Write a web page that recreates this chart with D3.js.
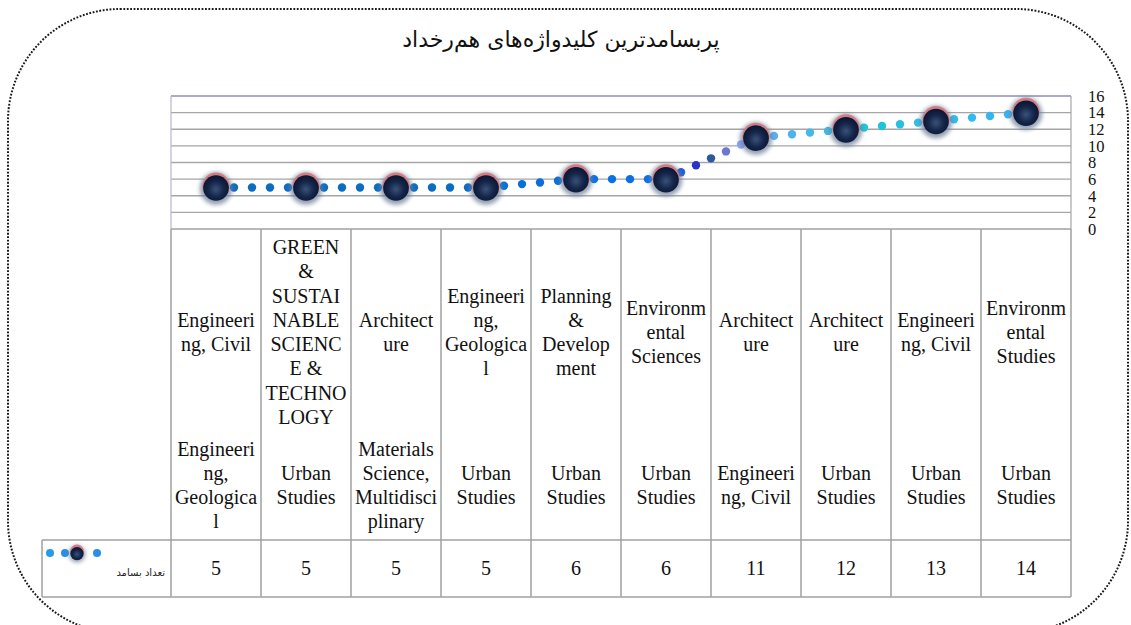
<!DOCTYPE html>
<html><head><meta charset="utf-8">
<script src="https://cdn.jsdelivr.net/npm/d3@7"></script>
<style>body{margin:0;background:#fff}svg{display:block}</style>
</head><body>
<svg id="c" width="1131" height="625"></svg>
<script>
const title = "پربسامدترین کلیدواژه\u200cهای هم\u200cرخداد";
const seriesName = "تعداد بسامد";
const topLabels = ["Engineering, Civil","GREEN & SUSTAINABLE SCIENCE & TECHNOLOGY","Architecture","Engineering, Geological","Planning & Development","Environmental Sciences","Architecture","Architecture","Engineering, Civil","Environmental Studies"];
const bottomLabels = ["Engineering, Geological","Urban Studies","Materials Science, Multidisciplinary","Urban Studies","Urban Studies","Urban Studies","Engineering, Civil","Urban Studies","Urban Studies","Urban Studies"];
const values = [5,5,5,5,6,6,11,12,13,14];
const yTicks = [0,2,4,6,8,10,12,14,16];
const segColors = [
  ["#0b6cc4"],["#0b6cc4"],["#0b6cc4"],["#0a6fd8"],["#0a70e8"],
  ["#1a5ee0","#2a32c8","#2d5a9c","#6a78d0","#8ca4ff"],
  ["#5ab0f0","#4eb4ec","#46b8e6","#3cbce4"],
  ["#1ec6da","#20c2dc","#28c0e2","#30c0ea"],
  ["#30bcee","#34b8f0","#36b6f0","#38b4f2"]
];

const svg = d3.select("#c");
const plotL = 171, plotR = 1071, plotT = 96, plotB = 229;
const tableB = 540, rowB = 597, legendL = 42;
const serif = "'Liberation Serif','Times New Roman',serif";

const x = d3.scaleBand().domain(d3.range(values.length)).range([plotL, plotR]).padding(0);
const y = d3.scaleLinear().domain([0,16]).range([plotB, plotT]);

const defs = svg.append("defs");
const rg = defs.append("radialGradient").attr("id","mk").attr("cx","50%").attr("cy","55%").attr("r","55%");
rg.append("stop").attr("offset","0%").attr("stop-color","#3a5278");
rg.append("stop").attr("offset","55%").attr("stop-color","#15264a");
rg.append("stop").attr("offset","100%").attr("stop-color","#0a1530");
defs.append("filter").attr("id","blur").attr("x","-50%").attr("y","-50%").attr("width","200%").attr("height","200%")
  .append("feGaussianBlur").attr("stdDeviation",2.2);

// outer dotted rounded border
svg.append("rect").attr("x",8).attr("y",9).attr("width",1120).attr("height",624).attr("rx",112).attr("ry",112)
  .attr("fill","none").attr("stroke","#1a1a1a").attr("stroke-width",2).attr("stroke-dasharray","1.8 1.6");

// title
svg.append("text").attr("x",561).attr("y",47).attr("text-anchor","middle")
  .attr("font-family","'DejaVu Sans',sans-serif").attr("font-size",22).attr("fill","#111")
  .attr("direction","rtl").text(title);

// gridlines
svg.append("g").selectAll("line").data(yTicks.filter(d=>d>0 && d<16)).join("line")
  .attr("x1",plotL).attr("x2",plotR).attr("y1",d=>y(d)).attr("y2",d=>y(d))
  .attr("stroke","#a6a6a6").attr("stroke-width",1.4);
svg.append("line").attr("x1",plotL).attr("x2",plotR).attr("y1",y(16)).attr("y2",y(16)).attr("stroke","#8e8cb8").attr("stroke-width",1.4);
svg.append("line").attr("x1",plotL).attr("x2",plotL).attr("y1",y(16)).attr("y2",plotB).attr("stroke","#b8b8c8").attr("stroke-width",1.2);
svg.append("line").attr("x1",plotR).attr("x2",plotR).attr("y1",y(16)).attr("y2",plotB).attr("stroke","#a6a6a6").attr("stroke-width",1.2);

// y axis labels on right
const yAxis = d3.axisRight(y).tickValues(yTicks).tickSize(0).tickPadding(17);
const ya = svg.append("g").attr("transform",`translate(${plotR},0)`).call(yAxis);
ya.select(".domain").remove();
ya.selectAll("text").attr("font-family",serif).attr("font-size",16.5).attr("fill","#111");

// table lines
const tl = svg.append("g").attr("stroke","#a0a0a0").attr("stroke-width",1.5);
tl.append("line").attr("x1",plotL).attr("x2",plotR).attr("y1",plotB).attr("y2",plotB);
tl.append("line").attr("x1",legendL).attr("x2",plotR).attr("y1",tableB).attr("y2",tableB);
tl.append("line").attr("x1",legendL).attr("x2",plotR).attr("y1",rowB).attr("y2",rowB);
tl.append("line").attr("x1",legendL).attr("x2",legendL).attr("y1",tableB).attr("y2",rowB);
const edges = d3.range(values.length+1).map(i => i<values.length ? x(i) : x(values.length-1)+x.bandwidth());
tl.selectAll(".v").data(edges).join("line").attr("x1",d=>d).attr("x2",d=>d).attr("y1",plotB).attr("y2",rowB);

// wrapping labels
const fs = 20, lh = 24.3;
const meas = svg.append("text").attr("font-family",serif).attr("font-size",fs).attr("visibility","hidden");
function wid(s){ meas.text(s); return meas.node().getComputedTextLength(); }
const maxW = 4.14*fs;
function wrap(str){
  const words = str.split(" "); const lines=[]; let cur="";
  for(const w of words){
    const tryS = cur ? cur+" "+w : w;
    if(wid(tryS) <= maxW){ cur = tryS; continue; }
    if(cur){ lines.push(cur); cur=""; }
    let rest = w;
    while(wid(rest) > maxW){
      let k = rest.length;
      while(k>1 && wid(rest.slice(0,k))>maxW) k--;
      lines.push(rest.slice(0,k)); rest = rest.slice(k);
    }
    cur = rest;
  }
  if(cur) lines.push(cur);
  return lines;
}
function block(labels, cy){
  labels.forEach((lab,i)=>{
    const lines = wrap(lab);
    const t = svg.append("text").attr("font-family",serif).attr("font-size",fs).attr("fill","#111")
      .attr("text-anchor","middle");
    const y0 = cy - (lines.length-1)*lh/2;
    lines.forEach((ln,j)=>{
      t.append("tspan").attr("x", x(i)+x.bandwidth()/2).attr("y", y0+j*lh).attr("dy","0.35em").text(ln);
    });
  });
}
block(topLabels, 332);
block(bottomLabels, 485);
meas.remove();

// value row
svg.append("g").selectAll("text").data(values).join("text")
  .attr("x",(d,i)=>x(i)+x.bandwidth()/2).attr("y",568).attr("dy","0.35em")
  .attr("text-anchor","middle").attr("font-family",serif).attr("font-size",fs).attr("fill","#111").text(d=>d);

// dotted line
const pts = values.map((v,i)=>[x(i)+x.bandwidth()/2, y(v)]);
const dots = [];
for(let i=0;i<pts.length-1;i++){
  const [x0,y0]=pts[i],[x1,y1]=pts[i+1];
  const len = Math.hypot(x1-x0,y1-y0), n = Math.round(len/18);
  for(let j=1;j<n;j++){
    const t=j/n; const cols=segColors[i];
    dots.push({x:x0+(x1-x0)*t, y:y0+(y1-y0)*t, c: cols[Math.min(j-1, cols.length-1)]});
  }
}
svg.append("g").selectAll("circle").data(dots).join("circle")
  .attr("cx",d=>d.x).attr("cy",d=>d.y).attr("r",4.2).attr("fill",d=>d.c);

// markers
function marker(g, cx, cy, r){
  g.append("circle").attr("cx",cx).attr("cy",cy+1).attr("r",r*1.2).attr("fill","#6f7f98").attr("opacity",0.75).attr("filter","url(#blur)");
  g.append("circle").attr("cx",cx).attr("cy",cy-1.4).attr("r",r).attr("fill","#d47c84");
  g.append("circle").attr("cx",cx).attr("cy",cy+0.6).attr("r",r*0.95).attr("fill","url(#mk)");
}
const mg = svg.append("g");
pts.forEach(p=>marker(mg, p[0], p[1], 13.5));

// legend
const lg = svg.append("g");
[[50,"#2a9ae6"],[65,"#2a8ee6"],[97,"#2a8ee6"]].forEach(([cx,c])=>{
  lg.append("circle").attr("cx",cx).attr("cy",553).attr("r",4).attr("fill",c);
});
marker(lg, 77, 553, 7);
lg.append("text").attr("x",165).attr("y",576).attr("text-anchor","start").attr("direction","rtl")
  .attr("font-family","'DejaVu Sans',sans-serif").attr("font-size",10).attr("fill","#222").text(seriesName);
</script>
</body></html>
